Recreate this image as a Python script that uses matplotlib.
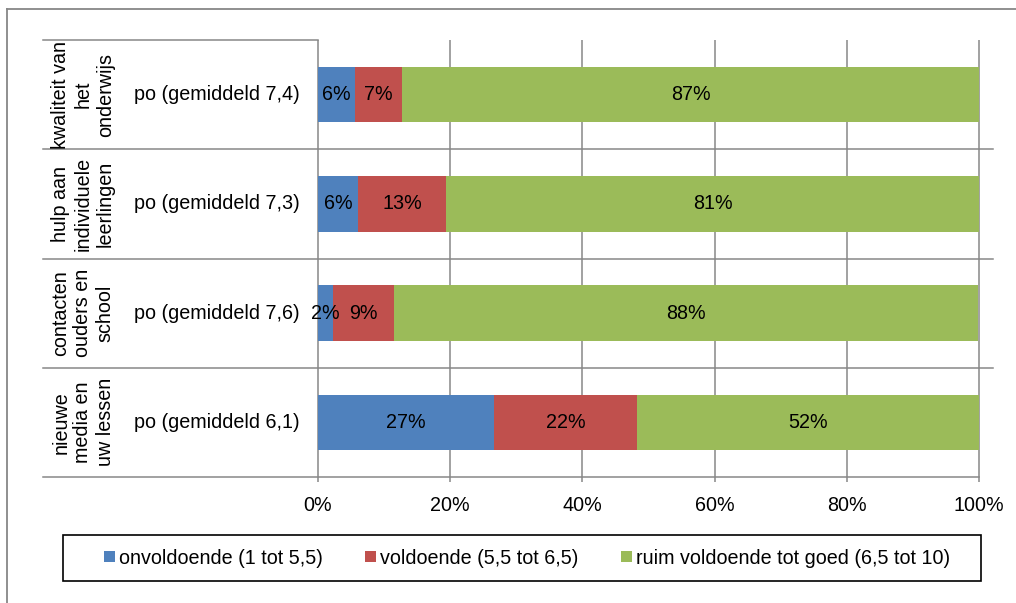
import matplotlib
matplotlib.use("Agg")
import matplotlib.pyplot as plt
from matplotlib.patches import Patch, Rectangle
from matplotlib.lines import Line2D

# data
groups = ["kwaliteit van\nhet\nonderwijs",
          "hulp aan\nindividuele\nleerlingen",
          "contacten\nouders en\nschool",
          "nieuwe\nmedia en\nuw lessen"]
sub_labels = ["po (gemiddeld 7,4)", "po (gemiddeld 7,3)",
              "po (gemiddeld 7,6)", "po (gemiddeld 6,1)"]
onvoldoende = [5.6, 6.1, 2.3, 26.6]
voldoende = [7.1, 13.3, 9.2, 21.7]
ruim_voldoende = [87.3, 80.6, 88.4, 51.7]
series_names = ["onvoldoende (1 tot 5,5)", "voldoende (5,5 tot 6,5)",
                "ruim voldoende tot goed (6,5 tot 10)"]
colors = ["#4F81BD", "#C0504D", "#9BBB59"]
xticks = [0, 20, 40, 60, 80, 100]
xtick_labels = ["0%", "20%", "40%", "60%", "80%", "100%"]

plt.rcParams["font.family"] = ["Liberation Sans", "DejaVu Sans"]
FS = 14.2
GRID = "#878787"

W, H = 1016, 603
fig = plt.figure(figsize=(W / 100, H / 100), dpi=100)
ax = fig.add_axes([318 / W, 1 - 477 / H, 661 / W, 437 / H])

ypos = list(range(len(groups)))
lefts = [0.0] * len(groups)
for vals, col in zip([onvoldoende, voldoende, ruim_voldoende], colors):
    bars = ax.barh(ypos, vals, left=lefts, height=0.51, color=col,
                   edgecolor="none", zorder=3)
    for b, v in zip(bars, vals):
        ax.text(b.get_x() + b.get_width() / 2, b.get_y() + b.get_height() / 2,
                f"{v:.0f}%", ha="center", va="center", fontsize=FS, zorder=4)
    lefts = [l + v for l, v in zip(lefts, vals)]

ax.set_xlim(0, 100)
ax.set_ylim(3.5, -0.5)
for s in ax.spines.values():
    s.set_visible(False)
ax.set_yticks([])
ax.set_xticks(xticks)
ax.set_xticklabels(xtick_labels, fontsize=FS)
ax.tick_params(axis="x", length=0, pad=14)

# grid lines (extend slightly below axis as tick marks)
px_x = 100 / 661.0
px_y = 4 / 437.0
y_bot = 3.5 + 5 * px_y
ax.vlines(xticks, -0.5, y_bot, color=GRID, lw=1.1, zorder=2, clip_on=False)

# row separators and label table
x_lab = (43 - 318) * px_x
ax.plot([x_lab, 0], [-0.5, -0.5], color=GRID, lw=1.1, clip_on=False)
for yb in [0.5, 1.5, 2.5]:
    ax.plot([x_lab, 100 + 14 * px_x], [yb, yb], color=GRID, lw=1.1,
            clip_on=False, zorder=2)
ax.plot([x_lab, 100], [3.5, 3.5], color=GRID, lw=1.1, clip_on=False, zorder=2)

for i, (g, s) in enumerate(zip(groups, sub_labels)):
    ax.text((83 - 318) * px_x, i, g, rotation=90, ha="center", va="center",
            multialignment="center", fontsize=FS, linespacing=1.22,
            clip_on=False)
    ax.text((300 - 318) * px_x, i, s, ha="right", va="center", fontsize=FS,
            clip_on=False)

# legend
handles = [Patch(facecolor=c, edgecolor="none") for c in colors]
fig.legend(handles, series_names, loc="center",
           bbox_to_anchor=(527 / W, 1 - 558 / H), ncol=3, frameon=False,
           fontsize=FS, handlelength=0.55, handleheight=0.55,
           handletextpad=0.2, columnspacing=2.15)
fig.add_artist(Rectangle((63 / W, 1 - 581 / H), (981 - 63) / W, 46 / H,
                         transform=fig.transFigure, fill=False,
                         edgecolor="black", lw=1.2))

# outer chart border
fig.add_artist(Line2D([7 / W, 1.0], [1 - 9 / H, 1 - 9 / H],
                      transform=fig.transFigure, color=GRID, lw=1.3))
fig.add_artist(Line2D([7 / W, 7 / W], [0.0, 1 - 9 / H],
                      transform=fig.transFigure, color=GRID, lw=1.3))

fig.savefig("out.png", dpi=100)
plt.close(fig)
